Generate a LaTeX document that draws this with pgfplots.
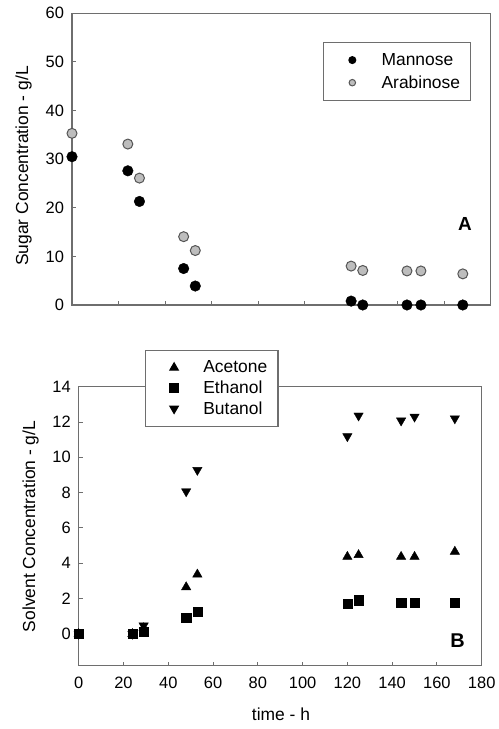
\documentclass[border=0pt]{standalone}
\usepackage{fontspec}
\setmainfont{Liberation Sans}
\usepackage{pgfplots}
\pgfplotsset{compat=1.18}
\definecolor{axisgray}{HTML}{6E6E6E}
\definecolor{mgray}{HTML}{BDBDBD}
\definecolor{edgegray}{HTML}{555555}
\pgfplotsset{
  base/.style={
    scale only axis,
    axis line style={axisgray, line width=1.3bp},
    tick style={axisgray, line width=1bp},
    tick align=inside, tick pos=left,
    major tick length=4bp,
    /pgf/number format/assume math mode=true,
    tick label style={font=\fontsize{16.5}{18}\selectfont},
    label style={font=\fontsize{17.5}{20}\selectfont},
    xmin=0, xmax=180, xtick={0,20,...,180},
    yticklabel style={xshift=-4.5bp},
    xticklabel style={yshift=-7.8bp},
    legend cell align=left,
    legend style={draw=axisgray, line width=1.1bp, fill=white,
      inner xsep=8.7bp, inner ysep=8.5bp,
      nodes={inner sep=2bp},
      column sep=8bp, row sep=4.8bp,
      font=\fontsize{17.5}{20}\selectfont, anchor=north west},
  }
}
\begin{document}
\begin{tikzpicture}[x=1bp,y=1bp]
\useasboundingbox (0,0) rectangle (499,729);
% ---------- Panel A ----------
\begin{axis}[base,
  at={(72bp,424bp)}, anchor=south west,
  width=418.7bp, height=291.7bp,
  ymin=0, ymax=60, ytick={0,10,...,60},
  xticklabels={},
  ylabel={Sugar Concentration - g/L},
  ylabel style={at={(axis description cs:-0.1158,0.4765)}, anchor=center},
  legend style={at={(axis description cs:0.600,0.9006)}},
  legend image code/.code={\path (0bp,0bp) (38bp,0bp); \draw[#1, every mark/.append style={scale=0.65}] plot coordinates {(19.3bp,0bp)};},
]
\addplot[only marks, mark=*, mark size=5.3bp, mark options={fill=black, draw=black}]
  coordinates {(0,30.5) (24,27.6) (29,21.3) (48,7.5) (53,3.9) (120,0.8) (125,0) (144,0) (150,0) (168,0)};
\addlegendentry{Mannose}
\addplot[only marks, mark=*, mark size=5bp, mark options={fill=mgray, draw=edgegray, line width=1bp}]
  coordinates {(0,35.3) (24,33.1) (29,26.1) (48,14.05) (53,11.2) (120,8.0) (125,7.1) (144,7.0) (150,7.0) (168,6.4)};
\addlegendentry{Arabinose}
\node[font=\bfseries\fontsize{19}{20}\selectfont] at (rel axis cs:0.9386,0.2777) {A};
\end{axis}
% ---------- Panel B ----------
\begin{axis}[base,
  at={(78.7bp,63.3bp)}, anchor=south west,
  width=403bp, height=279bp,
  ymin=-1.8, ymax=14, ytick={0,2,...,14},
  xlabel={time - h},
  xlabel style={at={(axis description cs:0.502,-0.173)}, anchor=center},
  ylabel={Solvent Concentration - g/L},
  ylabel style={at={(axis description cs:-0.1196,0.499)}, anchor=center},
  legend style={at={(axis description cs:0.1645,1.1315)}, row sep=2.5bp, inner ysep=8.4bp},
  legend image code/.code={\path (0bp,0bp) (38bp,0bp); \draw[#1, every mark/.append style={scale=0.9}] plot coordinates {(19.3bp,0bp)};},
]
\addplot[only marks, mark=triangle*, mark size=5.4bp, mark options={fill=black, draw=black}]
  coordinates {(0,0) (24,0) (29,0.33) (48,2.65) (53,3.37) (120,4.37) (125,4.47) (144,4.37) (150,4.37) (168,4.66)};
\addlegendentry{Acetone}
\addplot[only marks, mark=square*, mark size=4.6bp, mark options={fill=black, draw=black}]
  coordinates {(0,0) (24,0) (29,0.12) (48,0.91) (53,1.27) (120,1.72) (125,1.91) (144,1.76) (150,1.76) (168,1.78)};
\addlegendentry{Ethanol}
\addplot[only marks, mark=triangle*, mark size=5.4bp, mark options={fill=black, draw=black, rotate=180}]
  coordinates {(0,0) (24,0) (29,0.47) (48,8.07) (53,9.28) (120,11.19) (125,12.36) (144,12.08) (150,12.3) (168,12.2)};
\addlegendentry{Butanol}
\node[font=\bfseries\fontsize{20}{21}\selectfont] at (rel axis cs:0.940,0.0896) {B};
\end{axis}
\end{tikzpicture}
\end{document}
